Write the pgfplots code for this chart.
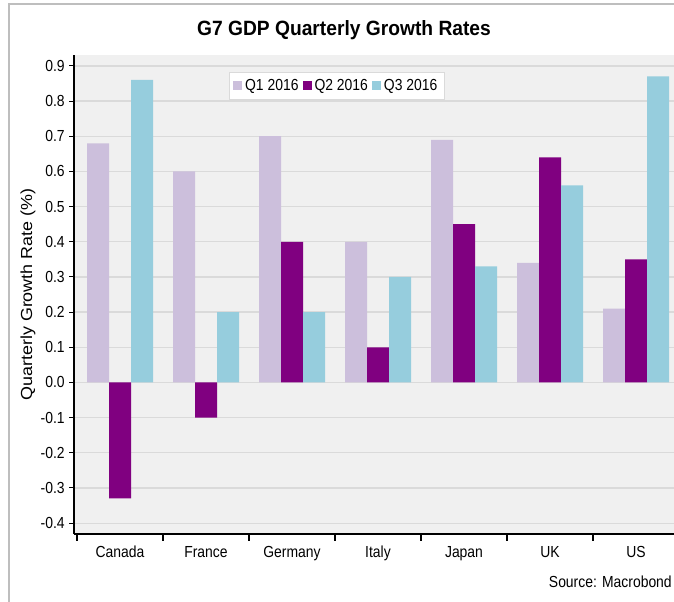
\documentclass[border=0pt]{standalone}
\usepackage{fontspec}
\setmainfont{Liberation Sans}[FakeStretch=0.87]
\newfontfamily\titlefont{Liberation Sans}[FakeStretch=0.93]
\newfontfamily\ylabfont{Liberation Sans}[FakeStretch=1.12]
\usepackage{pgfplots}
\pgfplotsset{compat=1.18}
\definecolor{qone}{HTML}{CCBFDC}
\definecolor{qtwo}{HTML}{800080}
\definecolor{qthree}{HTML}{96CDDD}
\definecolor{bgc}{HTML}{F0F0F0}
\definecolor{gridc}{HTML}{DADADA}
\definecolor{framec}{HTML}{BEBEBE}
\begin{document}
\begin{tikzpicture}
\path[use as bounding box, clip] (0pt,0pt) rectangle (505.5pt,450.75pt);
\draw[framec, line width=1.5pt] (6.4pt,-10pt) rectangle (540pt,447.4pt);
\node[font=\titlefont\bfseries\fontsize{15.5}{18}\selectfont] at (258pt,428.25pt) {G7 GDP Quarterly Growth Rates};
\node[anchor=east, font=\fontsize{12}{14}\selectfont, inner xsep=1pt] at (505pt,14.25pt) {Source: Macrobond};
\begin{axis}[
  at={(55.5pt,50.25pt)}, anchor=south west,
  width=453.75pt, height=359.25pt, scale only axis,
  xmin=-0.535, xmax=6.5, ymin=-0.431, ymax=0.931,
  axis background/.style={fill=bgc},
  axis x line*=bottom, axis y line*=left,
  axis line style={black, line width=0.8pt},
  tick align=outside,
  ymajorgrids, grid style={gridc, line width=0.9pt},
  ytick={-0.4,-0.3,-0.2,-0.1,0,0.1,0.2,0.3,0.4,0.5,0.6,0.7,0.8,0.9},
  yticklabel style={/pgf/number format/.cd, fixed, fixed zerofill, precision=1, assume math mode=true},
  yticklabel={\pgfmathprintnumber{\tick}},
  xtick={0,1,2,3,4,5,6},
  xticklabels={Canada,France,Germany,Italy,Japan,UK,US},
  major x tick style={draw=none},
  minor xtick={-0.5,0.5,1.5,2.5,3.5,4.5,5.5,6.5},
  minor tick length=5pt,
  major tick length=3.5pt,
  tick style={black, line width=0.8pt},
  ticklabel style={font=\fontsize{12}{14}\selectfont},
  xticklabel style={yshift=-2pt},
  ylabel={Quarterly Growth Rate (\%)},
  every axis y label/.style={at={(axis description cs:-0.076,0.5)}, rotate=90, anchor=center, font=\ylabfont\fontsize{12}{14}\selectfont},
  ybar=0pt, bar width=16.5pt,
  legend style={at={(0.434,0.936)}, anchor=center, legend columns=3, draw=gridc, fill=white,
    font=\fontsize{12}{14}\selectfont, inner xsep=3pt, inner ysep=3pt,
    /tikz/every even column/.append style={column sep=1pt}},
  legend image code/.code={\fill[#1] (0pt,-3.5pt) rectangle (7pt,3.5pt);},
]
\addplot[fill=qone, draw=none] coordinates {(0,0.68) (1,0.60) (2,0.70) (3,0.40) (4,0.69) (5,0.34) (6,0.21)};
\addplot[fill=qtwo, draw=none] coordinates {(0,-0.33) (1,-0.10) (2,0.40) (3,0.10) (4,0.45) (5,0.64) (6,0.35)};
\addplot[fill=qthree, draw=none] coordinates {(0,0.86) (1,0.20) (2,0.20) (3,0.30) (4,0.33) (5,0.56) (6,0.87)};
\legend{Q1 2016, Q2 2016, Q3 2016}
\end{axis}
\end{tikzpicture}
\end{document}
